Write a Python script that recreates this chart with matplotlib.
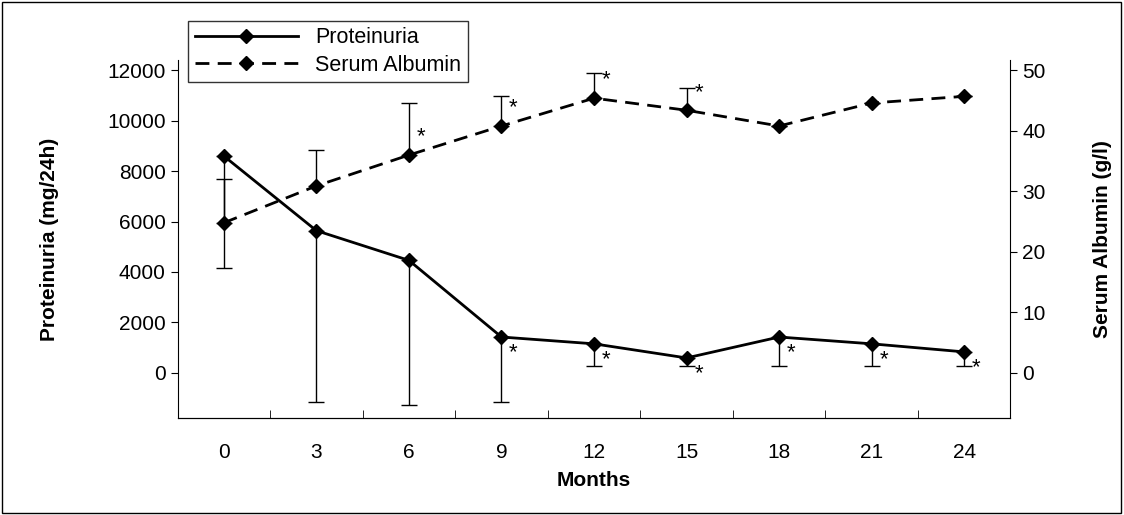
import matplotlib
matplotlib.use("Agg")
import matplotlib.pyplot as plt
from matplotlib.patches import Rectangle

months = [0, 3, 6, 9, 12, 15, 18, 21, 24]
protein = [8600, 5640, 4460, 1420, 1150, 590, 1420, 1150, 830]
protein_low_err = [4460, 6780, 5720, 2560, 870, 310, 1140, 870, 550]
albumin = [24.8, 30.9, 36.0, 40.8, 45.4, 43.4, 40.8, 44.6, 45.7]
albumin_up_err = [7.3, 5.9, 8.6, 4.9, 4.1, 3.6, 0, 0, 0]
prot_star = [False, False, False, True, True, True, True, True, True]
alb_star = [False, False, True, True, True, True, False, False, False]

plt.rcParams['font.family'] = ['Liberation Sans', 'DejaVu Sans']
fig = plt.figure(figsize=(11.24, 5.15), dpi=100)
fig.patches.append(Rectangle((0.002, 0.004), 0.995, 0.992, transform=fig.transFigure,
                             fill=False, ec='black', lw=1))
ax = fig.add_axes([0.158, 0.188, 0.741, 0.695])
ax2 = ax.twinx()

ylo, yhi = -1800, 12400
ax.set_ylim(ylo, yhi)
ax2.set_ylim(ylo / 240, yhi / 240)
ax.set_xlim(-1.5, 25.5)

ax.errorbar(months, protein, yerr=[protein_low_err, [0] * 9], fmt='none',
            ecolor='black', elinewidth=1, capsize=6)
lp, = ax.plot(months, protein, '-', color='black', lw=2, marker='D', ms=7,
              label='Proteinuria')
ax2.errorbar(months, albumin, yerr=[[0] * 9, albumin_up_err], fmt='none',
             ecolor='black', elinewidth=1, capsize=6)
la, = ax2.plot(months, albumin, '--', color='black', lw=2, marker='D', ms=7,
               dashes=(5, 3), label='Serum Albumin')

for m, p, s in zip(months, protein, prot_star):
    if s:
        ax.annotate('*', (m, p), xytext=(12, -16), textcoords='offset pixels',
                    fontsize=16, ha='center', va='center')
for m, a, s in zip(months, albumin, alb_star):
    if s:
        ax2.annotate('*', (m, a), xytext=(12, 18), textcoords='offset pixels',
                     fontsize=16, ha='center', va='center')

for a in (ax, ax2):
    a.spines['top'].set_visible(False)
ax2.spines['left'].set_visible(False)
ax.spines['right'].set_visible(False)

ax.set_yticks(range(0, 12001, 2000))
ax2.set_yticks(range(0, 51, 10))
ax.set_xticks(months)
ax.set_xticks([m + 1.5 for m in [-3] + months], minor=True)
ax.tick_params(axis='x', which='major', length=0, labelsize=15, pad=18)
ax.tick_params(axis='x', which='minor', length=6, direction='in')
ax.tick_params(axis='y', labelsize=15, direction='out', length=5)
ax2.tick_params(axis='y', labelsize=15, direction='out', length=5)

ax.set_xlabel('Months', fontsize=15, fontweight='bold', labelpad=6)
ax.set_ylabel('Proteinuria (mg/24h)', fontsize=15, fontweight='bold', labelpad=35)
ax2.set_ylabel('Serum Albumin (g/l)', fontsize=15, fontweight='bold', labelpad=34)

leg = ax.legend(handles=[lp, la], loc='upper left', bbox_to_anchor=(0.0, 1.14),
                fontsize=15.5, frameon=True, fancybox=False, edgecolor='black',
                handlelength=4.8, borderpad=0.3, labelspacing=0.3)
leg.get_frame().set_linewidth(1)
leg.set_zorder(10)

fig.savefig('out.png', dpi=100)
